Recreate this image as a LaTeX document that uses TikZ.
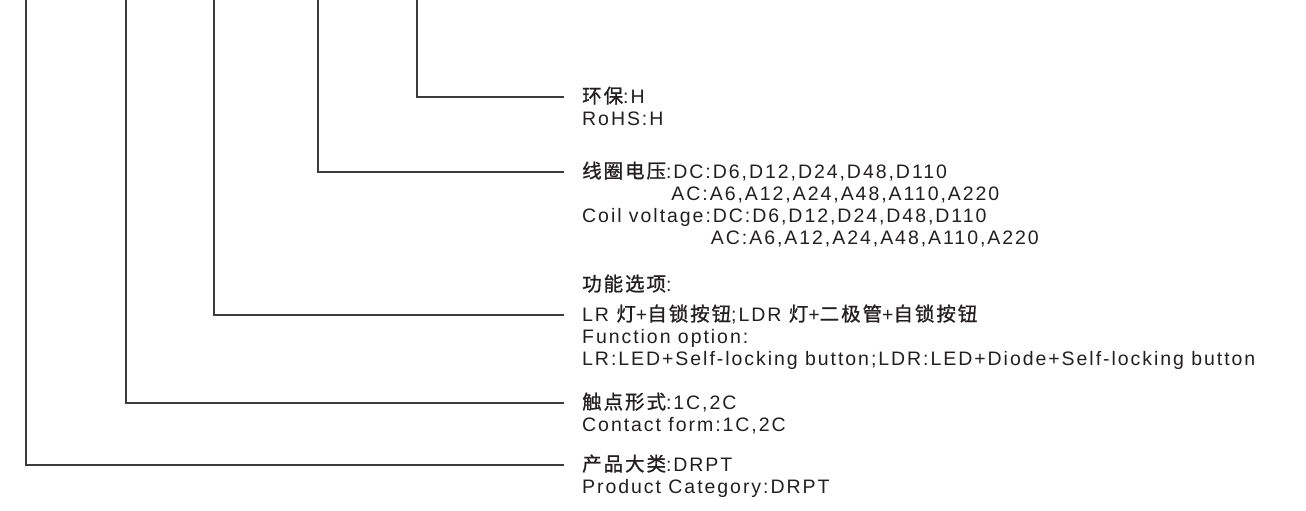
\documentclass[tikz,border=0pt]{standalone}
\usepackage{fontspec}
\setmainfont{Liberation Sans}[LetterSpace=10]
\newfontfamily\cjk{Noto Sans CJK SC}[LetterSpace=10,FakeBold=1]
\usetikzlibrary{calc}
\definecolor{ink}{HTML}{231F20}
\definecolor{wire}{HTML}{3C3C3C}
\tikzset{
  lbl/.style={anchor=base west, inner sep=0pt, text=ink, font=\fontsize{19.5}{21}\selectfont},
  wireline/.style={draw=wire, line width=1.2pt}
}
\begin{document}
\begin{tikzpicture}[x=1pt,y=1pt]
\useasboundingbox (0,0) rectangle (1306,-511);
% tops of the vertical lines
\coordinate (t1) at (26,0);
\coordinate (t2) at (126,0);
\coordinate (t3) at (214,0);
\coordinate (t4) at (318,0);
\coordinate (t5) at (417,0);
% labels
\node[lbl] (h1) at (582,-103) {{\cjk 环保}:H};
\node[lbl] (h2) at (582,-125) {RoHS:H};
\node[lbl] (v1) at (582,-178) {{\cjk 线圈电压}:DC:D6,D12,D24,D48,D110};
\node[lbl] (v2) at (582,-200) {\hphantom{{\cjk 线圈电压}:}AC:A6,A12,A24,A48,A110,A220};
\node[lbl] (v3) at (582,-222) {Coil voltage:DC:D6,D12,D24,D48,D110};
\node[lbl] (v4) at (582,-244) {\hphantom{Coil voltage:}AC:A6,A12,A24,A48,A110,A220};
\node[lbl] (f1) at (582,-291) {{\cjk 功能选项}:};
\node[lbl] (f2) at (582,-321) {LR {\cjk 灯}+{\cjk 自锁按钮};LDR {\cjk 灯}+{\cjk 二极管}+{\cjk 自锁按钮}};
\node[lbl] (f3) at (582,-343) {Function option:};
\node[lbl] (f4) at (582,-365) {LR:LED+Self-locking button;LDR:LED+Diode+Self-locking button};
\node[lbl] (c1) at (582,-409) {{\cjk 触点形式}:1C,2C};
\node[lbl] (c2) at (582,-431) {Contact form:1C,2C};
\node[lbl] (p1) at (582,-471) {{\cjk 产品大类}:DRPT};
\node[lbl] (p2) at (582,-493) {Product Category:DRPT};
% connectors
\draw[wireline] (t5) |- ($(h1.base west)+(-18,6)$);
\draw[wireline] (t4) |- ($(v1.base west)+(-18,6)$);
\draw[wireline] (t3) |- ($(f2.base west)+(-18,6)$);
\draw[wireline] (t2) |- ($(c1.base west)+(-18,6)$);
\draw[wireline] (t1) |- ($(p1.base west)+(-18,6)$);
\end{tikzpicture}
\end{document}
